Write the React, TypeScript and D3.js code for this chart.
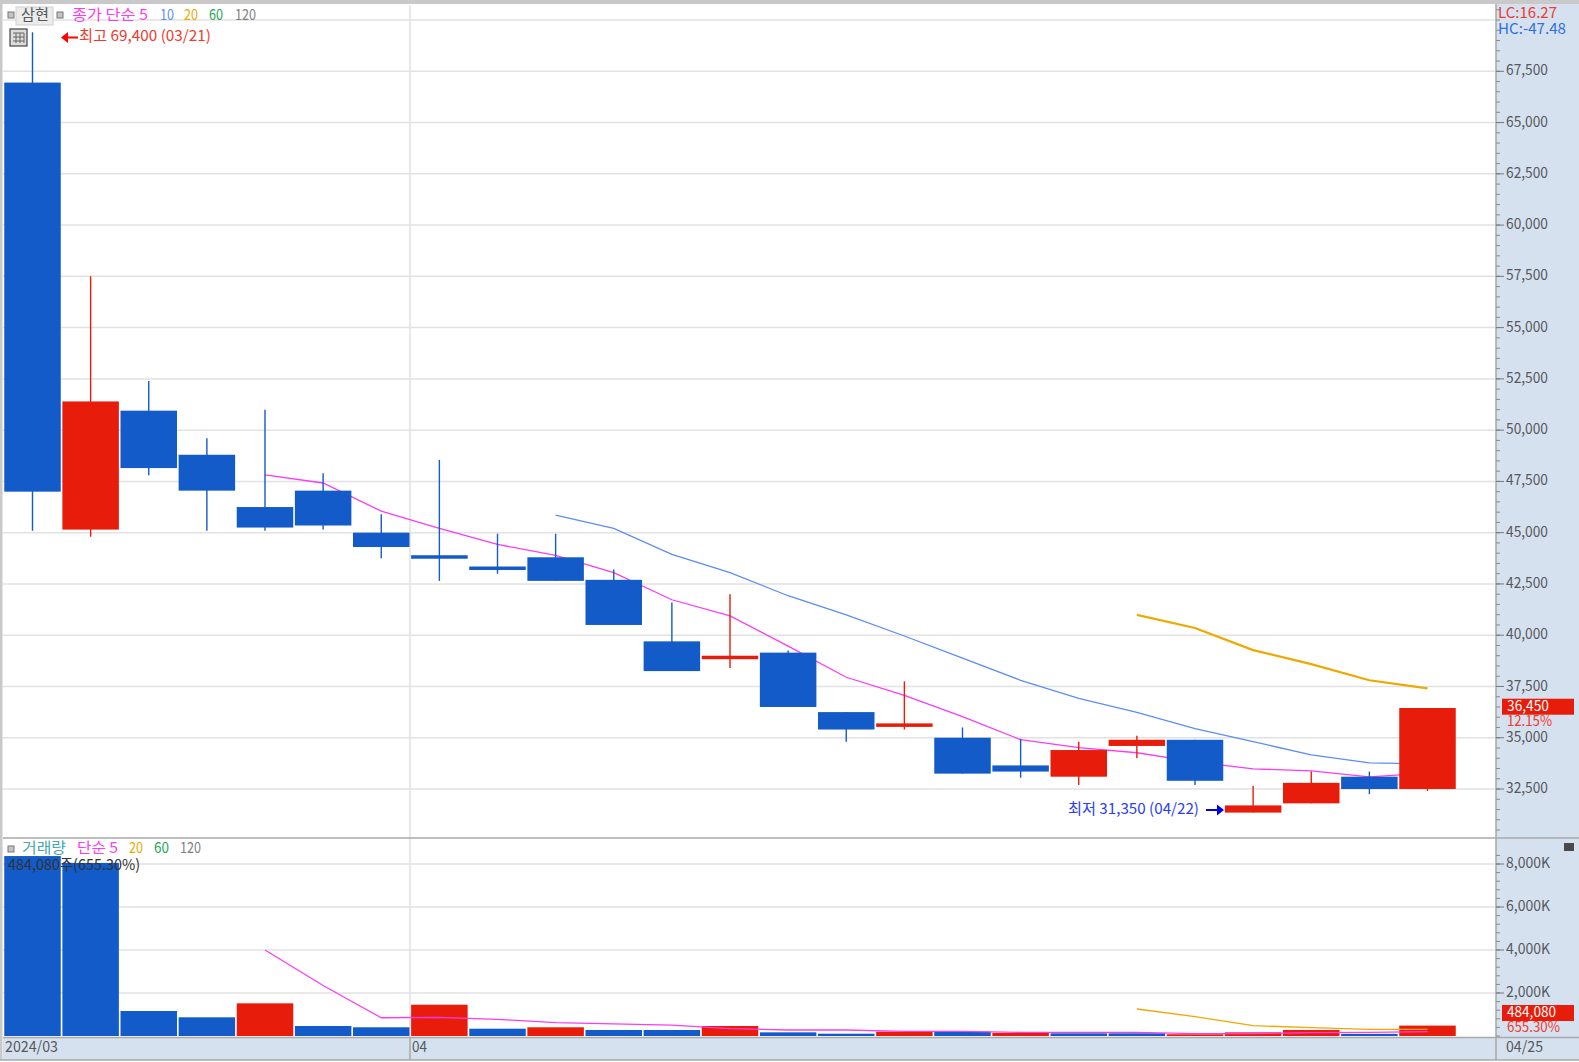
import * as d3 from 'd3';

const W = 1579;
const H = 1062;

const FONT = '"Noto Sans CJK KR", "Noto Sans", sans-serif';
const BLUE = '#125bc8';
const RED = '#e81c0a';
const TEXT_RED = '#ef3a30';
const MAGENTA = '#fb3cf0';
const LINE_BLUE = '#5c8df5';
const ORANGE = '#efa800';
const GREEN = '#23a84e';
const GRID = '#e2e2e2';
const AXIS_BG = '#d6e1ef';
const AXIS_LINE = '#a9a9a9';
const TEXT = '#55585c';

// daily candles, 2024/03/21 - 04/25
const opens = [66950, 45150, 50950, 48800, 46250, 47050, 45000, 43900, 43350, 43800, 42700, 39700, 38850, 39150, 36250, 35650, 35000, 33650, 33100, 34600, 34900, 31350, 31800, 33100, 32500];
const closes = [47000, 51400, 48150, 47050, 45250, 45350, 44300, 43800, 43250, 42650, 40500, 38250, 39000, 36500, 35400, 35700, 33250, 33350, 34400, 34900, 32900, 31700, 32800, 32500, 36450];
const highs = [69400, 57500, 52400, 49600, 51000, 47900, 45900, 48550, 44950, 44950, 43200, 41600, 42000, 39250, 36250, 37750, 35500, 34950, 34800, 35100, 34900, 32650, 33350, 33350, 36450];
const lows = [45100, 44800, 47800, 45100, 45100, 45150, 43750, 42650, 43000, 42650, 40500, 38250, 38400, 36500, 34800, 35400, 33250, 33050, 32700, 34000, 32700, 31350, 31800, 32250, 32400];

const ma5 = [null, null, null, null, 47816, 47423, 46049, 45214, 44429, 43889, 43054, 41729, 40943, 39471, 37949, 37065, 36034, 34905, 34513, 34267, 33825, 33482, 33384, 33089, 33270];
const ma10 = [null, null, null, null, null, null, null, null, null, 45852, 45214, 43938, 43054, 41925, 40993, 39962, 38882, 37802, 36918, 36231, 35445, 34807, 34169, 33776, 33727];
const ma20 = [null, null, null, null, null, null, null, null, null, null, null, null, null, null, null, null, null, null, null, 40993, 40354, 39274, 38587, 37802, 37409];

// volume in thousands
const volumes = [8370, 8050, 1163, 870, 1520, 465, 405, 1456, 340, 405, 280, 280, 465, 170, 107, 200, 200, 140, 125, 125, 80, 170, 280, 100, 484];
const volumeUp = [0, 0, 0, 0, 1, 0, 0, 1, 0, 1, 0, 0, 1, 0, 0, 1, 0, 1, 0, 0, 1, 1, 1, 0, 1];
const volMa5 = [null, null, null, null, 4000, 2350, 850, 870, 775, 620, 560, 510, 340, 280, 280, 218, 218, 170, 170, 170, 107, 107, 153, 170, 200];
const volMa20 = [null, null, null, null, null, null, null, null, null, null, null, null, null, null, null, null, null, null, null, 1255, 900, 480, 385, 310, 310];

const priceTicks = d3.range(32500, 67501, 2500);
const priceMinor = d3.range(30500, 70501, 500);
const volumeTicks = [2000, 4000, 6000, 8000];
const volumeMinor = d3.range(0, 8401, 400);

const plotLeft = 3;
const axisX = 1496;
const paneSplit = 838;
const paneBottom = 1037.5;
const stripBottom = 1060;
const monthX = 410;
const candleW = 56.5;

const x = d3
  .scalePoint<number>()
  .domain(d3.range(opens.length))
  .range([32.5, 1427.5]);
const yPrice = d3.scaleLinear().domain([32500, 67500]).range([789, 71.3]);
const yVol = d3.scaleLinear().domain([0, 8000]).range([1036, 864]);

const fmt = d3.format(',');

function maPath(values: (number | null)[], y: d3.ScaleLinear<number, number>) {
  const line = d3
    .line<number | null>()
    .defined((d) => d !== null)
    .x((_, i) => x(i) as number)
    .y((d) => y(d as number));
  return line(values) || '';
}

// len squeezes the text to the width it has in the source (a narrow bitmap font)
function Label({ x: tx, y: ty, fill, size = 15, len, children }: any) {
  return (
    <text
      x={tx}
      y={ty + 1}
      fill={fill}
      fontSize={size}
      fontFamily={FONT}
      dominantBaseline="middle"
      textLength={len}
      lengthAdjust={len ? 'spacingAndGlyphs' : undefined}
    >
      {children}
    </text>
  );
}

function Bullet({ x: bx, y: by }: { x: number; y: number }) {
  return <rect x={bx} y={by} width={6} height={6} fill="#c4c4c4" stroke="#777" strokeWidth={1} />;
}

export default function App() {
  return (
    <svg
      width={W}
      height={H}
      viewBox={`0 0 ${W} ${H}`}
      style={{ position: 'absolute', left: 0, top: 0, display: 'block' }}
    >
      <rect width={W} height={H} fill="#ffffff" />
      {/* axis and date strip backgrounds */}
      <rect x={axisX} y={4} width={W - axisX} height={stripBottom - 4} fill={AXIS_BG} />
      <rect x={plotLeft} y={paneBottom} width={W - plotLeft} height={stripBottom - paneBottom} fill={AXIS_BG} />

      {/* grid */}
      {[...priceTicks, 70000].map((t) => (
        <line key={t} x1={plotLeft} x2={axisX} y1={yPrice(t)} y2={yPrice(t)} stroke={GRID} strokeWidth={1.5} />
      ))}
      {volumeTicks.map((t) => (
        <line key={t} x1={plotLeft} x2={axisX} y1={yVol(t)} y2={yVol(t)} stroke={GRID} strokeWidth={1.5} />
      ))}
      <line x1={monthX} x2={monthX} y1={5} y2={paneBottom} stroke={GRID} strokeWidth={1.5} />
      <line x1={monthX} x2={monthX} y1={paneBottom} y2={stripBottom} stroke={AXIS_LINE} strokeWidth={1.5} />

      {/* moving averages sit under the candles */}
      <path d={maPath(ma5, yPrice)} fill="none" stroke={MAGENTA} strokeWidth={1.3} />
      <path d={maPath(ma10, yPrice)} fill="none" stroke={LINE_BLUE} strokeWidth={1.3} />
      <path d={maPath(ma20, yPrice)} fill="none" stroke={ORANGE} strokeWidth={2.2} />

      {/* candles */}
      {opens.map((o, i) => {
        const c = closes[i];
        const color = c >= o ? RED : BLUE;
        const cx = x(i) as number;
        const top = yPrice(Math.max(o, c));
        const h = Math.max(3.5, Math.abs(yPrice(o) - yPrice(c)));
        return (
          <g key={i}>
            <line x1={cx} x2={cx} y1={yPrice(highs[i])} y2={yPrice(lows[i])} stroke={color} strokeWidth={1.4} />
            <rect x={cx - candleW / 2} y={top} width={candleW} height={h} fill={color} />
          </g>
        );
      })}

      {/* volume */}
      {volumes.map((v, i) => (
        <rect
          key={i}
          x={(x(i) as number) - candleW / 2}
          y={yVol(v)}
          width={candleW}
          height={yVol(0) - yVol(v)}
          fill={volumeUp[i] ? RED : BLUE}
        />
      ))}
      <path d={maPath(volMa5, yVol)} fill="none" stroke={MAGENTA} strokeWidth={1.3} />
      <path d={maPath(volMa20, yVol)} fill="none" stroke={ORANGE} strokeWidth={1.3} />

      {/* frame lines */}
      <rect x={0} y={0} width={W} height={4} fill="#c9c9c9" />
      <rect x={0} y={0} width={2.5} height={H} fill="#c9c9c9" />
      <rect x={0} y={stripBottom} width={W} height={H - stripBottom} fill="#ffffff" />
      <line x1={0} x2={W} y1={stripBottom} y2={stripBottom} stroke={AXIS_LINE} strokeWidth={1.5} />
      <line x1={plotLeft} x2={W} y1={paneSplit} y2={paneSplit} stroke={AXIS_LINE} strokeWidth={1.5} />
      <line x1={plotLeft} x2={W} y1={paneBottom} y2={paneBottom} stroke={AXIS_LINE} strokeWidth={1.5} />
      <line x1={axisX} x2={axisX} y1={4} y2={stripBottom} stroke={AXIS_LINE} strokeWidth={1.5} />

      {/* price axis */}
      {priceMinor.map((t) => (
        <line key={t} x1={axisX} x2={axisX + 4} y1={yPrice(t)} y2={yPrice(t)} stroke="#8a8a8a" strokeWidth={1} />
      ))}
      {priceTicks.map((t) => (
        <g key={t}>
          <line x1={axisX} x2={axisX + 8} y1={yPrice(t)} y2={yPrice(t)} stroke="#777" strokeWidth={1} />
          <Label x={1506} y={yPrice(t) - 1} fill={TEXT} len={42}>{fmt(t)}</Label>
        </g>
      ))}
      <Label x={1498} y={13} fill={TEXT_RED} size={15} len={59}>LC:16.27</Label>
      <Label x={1498} y={28.5} fill="#2f6fe0" size={15} len={68}>HC:-47.48</Label>

      <rect x={1502} y={698.7} width={72} height={16} fill={RED} />
      <Label x={1507} y={706} fill="#ffffff" size={14.5} len={42}>{fmt(closes[24])}</Label>
      <Label x={1507} y={721} fill={TEXT_RED} size={14.5} len={45}>12.15%</Label>

      {/* volume axis */}
      {volumeMinor.map((t) => (
        <line key={t} x1={axisX} x2={axisX + 4} y1={yVol(t)} y2={yVol(t)} stroke="#8a8a8a" strokeWidth={1} />
      ))}
      {volumeTicks.map((t) => (
        <g key={t}>
          <line x1={axisX} x2={axisX + 8} y1={yVol(t)} y2={yVol(t)} stroke="#777" strokeWidth={1} />
          <Label x={1506} y={yVol(t) - 1} fill={TEXT} len={44}>{fmt(t)}K</Label>
        </g>
      ))}
      <rect x={1502} y={1005} width={72} height={16} fill={RED} />
      <Label x={1507} y={1012} fill="#ffffff" size={14.5} len={49}>484,080</Label>
      <Label x={1507} y={1027.5} fill={TEXT_RED} size={14.5} len={53}>655.30%</Label>
      <rect x={1564} y={843} width={10} height={8} fill="#4a4a4a" />

      {/* date strip */}
      <Label x={5} y={1047} fill={TEXT} len={53}>2024/03</Label>
      <Label x={412} y={1047} fill={TEXT} len={15}>04</Label>
      <Label x={1506} y={1047} fill={TEXT} len={37}>04/25</Label>

      {/* price legend */}
      <Bullet x={8} y={12} />
      <rect x={16} y={7} width={37} height={18} fill="#ececec" stroke="#cfcfcf" />
      <Label x={21} y={15} fill={TEXT} len={28}>삼현</Label>
      <Bullet x={57} y={12} />
      <Label x={72} y={14.5} fill={MAGENTA} len={76}>종가 단순 5</Label>
      <Label x={160} y={14.5} fill={LINE_BLUE} len={14}>10</Label>
      <Label x={184} y={14.5} fill={ORANGE} len={14}>20</Label>
      <Label x={209} y={14.5} fill={GREEN} len={14}>60</Label>
      <Label x={235} y={14.5} fill="#808080" len={21}>120</Label>

      {/* table icon */}
      <rect x={10} y={29} width={17} height={17} fill="#dcdcdc" stroke="#444" strokeWidth={1.2} />
      <path d="M13 33h11M13 37h11M13 41h11M16 33v10M20 33v10M24 33v10" stroke="#666" strokeWidth={1} fill="none" />

      {/* high / low notes */}
      <path d="M61 37.5l7-5.5v4.500h10v2H68v4.500z" fill="#ff0000" />
      <Label x={79} y={36} fill={TEXT_RED} len={132}>최고 69,400 (03/21)</Label>
      <Label x={1068} y={808.5} fill="#2a3df0" len={131}>최저 31,350 (04/22)</Label>
      <path d="M1224 810l-7 5.500v-4.500h-11v-2h11v-4.500z" fill="#0000e6" />

      {/* volume legend */}
      <Bullet x={8} y={846} />
      <Label x={22} y={848} fill="#45a9a9" len={44}>거래량</Label>
      <Label x={77} y={848} fill={MAGENTA} len={41}>단순 5</Label>
      <Label x={129} y={848} fill={ORANGE} len={14}>20</Label>
      <Label x={154} y={848} fill={GREEN} len={15}>60</Label>
      <Label x={180} y={848} fill="#808080" len={21}>120</Label>
      <Label x={8} y={864.5} fill="#333333" len={132}>484,080주(655.30%)</Label>
    </svg>
  );
}
